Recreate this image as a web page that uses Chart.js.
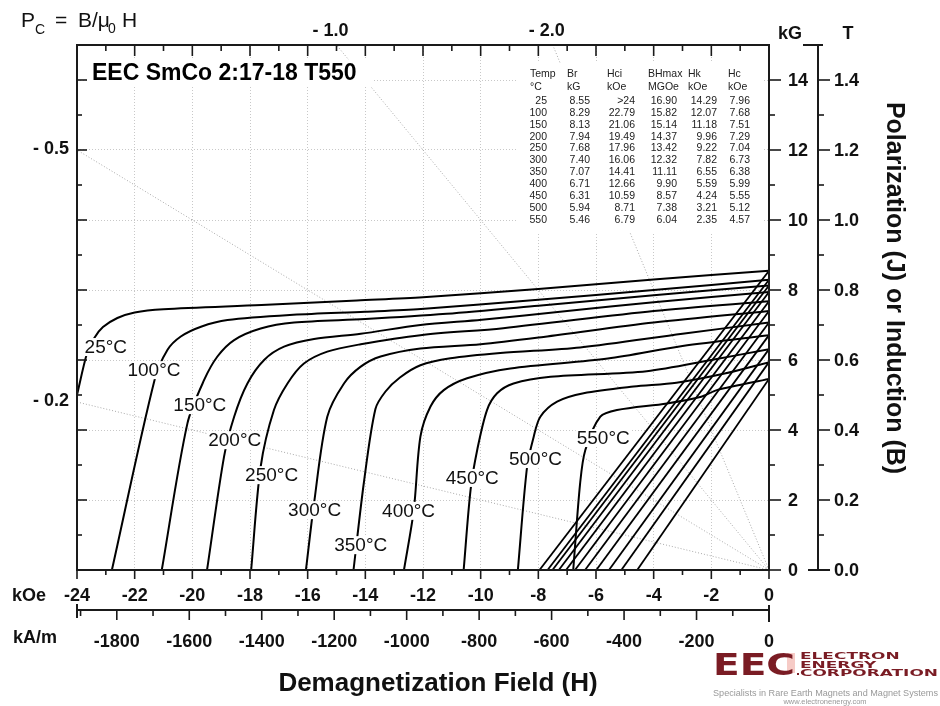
<!DOCTYPE html>
<html>
<head>
<meta charset="utf-8">
<script src="https://cdn.jsdelivr.net/npm/chart.js@4.4.0/dist/chart.umd.min.js"></script>
<style>
  html, body { margin: 0; padding: 0; background: #fff; }
  #wrap { width: 940px; height: 706px; }
</style>
</head>
<body>
<div id="wrap"><canvas id="chartCanvas" width="940" height="706"></canvas></div>
<script>
// ---- values ----
const temps  = [25, 100, 150, 200, 250, 300, 350, 400, 450, 500, 550];
const brKG   = [8.55, 8.29, 8.13, 7.94, 7.68, 7.40, 7.07, 6.71, 6.31, 5.94, 5.46];
const hciKOe = [null, 22.79, 21.06, 19.49, 17.96, 16.06, 14.41, 12.66, 10.59, 8.71, 6.79];
const bhMax  = [16.90, 15.82, 15.14, 14.37, 13.42, 12.32, 11.11, 9.90, 8.57, 7.38, 6.04];
const hkKOe  = [14.29, 12.07, 11.18, 9.96, 9.22, 7.82, 6.55, 5.59, 4.24, 3.21, 2.35];
const hcKOe  = [7.96, 7.68, 7.51, 7.29, 7.04, 6.73, 6.38, 5.99, 5.55, 5.12, 4.57];

// intrinsic (J-H) curves, [H kOe, J kG]
const j25  = [[0,8.55],[-4,8.3],[-8,8.03],[-12,7.79],[-14.29,7.70],[-17.6,7.57],[-21,7.45],[-22,7.36],[-22.6,7.2],[-23.1,6.94],[-23.4,6.63],[-23.65,6.2],[-24,5.0]];
const j100 = [[0,8.29],[-4,8.0],[-8,7.72],[-12.07,7.46],[-14,7.38],[-16.5,7.29],[-18.78,7.14],[-19.7,6.95],[-20.4,6.67],[-20.86,6.29],[-21.31,5.43],[-22.79,0]];
const j150 = [[0,8.13],[-4,7.85],[-8,7.55],[-11.18,7.32],[-14,7.17],[-16.47,7.07],[-17.63,6.9],[-18.55,6.57],[-19.13,6.1],[-19.59,5.43],[-20.17,4.19],[-21.06,0]];
const j200 = [[0,7.94],[-4,7.65],[-7,7.4],[-9.96,7.15],[-12.09,7.0],[-14.16,6.75],[-15.78,6.6],[-16.82,6.38],[-17.51,6.0],[-18.09,5.33],[-18.55,4.38],[-18.9,3.24],[-19.49,0]];
const j250 = [[0,7.68],[-4,7.4],[-9.22,6.91],[-12.09,6.71],[-14.16,6.45],[-15.32,6.24],[-16.13,5.9],[-16.7,5.33],[-17.17,4.57],[-17.63,2.95],[-17.96,0]];
const j300 = [[0,7.40],[-4,7.07],[-7.82,6.66],[-10,6.45],[-12.09,6.33],[-13.47,6.1],[-14.16,5.81],[-14.74,5.33],[-15.32,4.38],[-15.78,1.9],[-16.06,0]];
const j350 = [[0,7.07],[-3,6.75],[-6.55,6.36],[-9.32,6.2],[-11.05,6.05],[-12.09,5.85],[-12.8,5.5],[-13.3,5.1],[-13.65,4.6],[-14.05,2.5],[-14.41,0]];
const j400 = [[0,6.71],[-3,6.4],[-5.59,6.04],[-8.97,5.76],[-10.47,5.48],[-11.28,5.14],[-11.74,4.67],[-12.09,3.81],[-12.32,1.71],[-12.66,0]];
const j450 = [[0,6.31],[-2,6.0],[-4.24,5.68],[-7.58,5.52],[-8.86,5.33],[-9.43,5.05],[-9.78,4.57],[-10.12,3.43],[-10.35,2.29],[-10.59,0]];
const j500 = [[0,5.94],[-1.5,5.62],[-3.21,5.35],[-4.7,5.24],[-6.43,5.05],[-7.35,4.81],[-7.93,4.38],[-8.16,3.81],[-8.39,2.95],[-8.71,0]];
const j550 = [[0,5.46],[-1.81,5.14],[-2.35,4.95],[-3.54,4.76],[-5.27,4.57],[-5.85,4.38],[-6.37,3.43],[-6.55,2.48],[-6.79,0]];
const jCurves = [j25, j100, j150, j200, j250, j300, j350, j400, j450, j500, j550];

// permeance coefficient lines B = -Pc * H
const pcLines = [0.2, 0.5, 1.0, 2.0];
const pcLeft  = [0.5, 0.2];
const pcTop   = [1.0, 2.0];

// axis ticks
const kOeTicks  = [-24, -22, -20, -18, -16, -14, -12, -10, -8, -6, -4, -2, 0];
const kAmTicks  = [-1800, -1600, -1400, -1200, -1000, -800, -600, -400, -200, 0];
const kGTicks   = [0, 2, 4, 6, 8, 10, 12, 14];
const teslaTicks = ['0.0', '0.2', '0.4', '0.6', '0.8', '1.0', '1.2', '1.4'];

// where the temperature tags sit (H, B)
const tagAt = [[-23.0,6.37],[-21.33,5.71],[-19.74,4.71],[-18.53,3.71],[-17.25,2.71],[-15.76,1.71],[-14.16,0.71],[-12.5,1.69],[-10.29,2.63],[-8.1,3.17],[-5.75,3.77]];

const SANS = '"Liberation Sans", Arial, sans-serif';
const KA_PER_KOE = 79.577;

function seg(ctx, x1, y1, x2, y2) {
  ctx.beginPath(); ctx.moveTo(x1, y1); ctx.lineTo(x2, y2); ctx.stroke();
}

const datasets = [];
pcLines.forEach(pc => {
  datasets.push({
    data: [{x: 0, y: 0}, {x: -24, y: 24 * pc}],
    borderColor: '#a8a8a8', borderWidth: 1, borderDash: [1, 2], order: 10
  });
});
jCurves.forEach(c => {
  datasets.push({
    data: c.map(p => ({x: p[0], y: p[1]})),
    borderColor: '#000', borderWidth: 2, tension: 0.3, order: 1
  });
});
brKG.forEach((br, i) => {
  datasets.push({
    data: [{x: 0, y: br}, {x: -hcKOe[i], y: 0}],
    borderColor: '#000', borderWidth: 1.8, order: 1
  });
});

const decor = {
  id: 'decor',
  afterDatasetsDraw(chart) {
    const {ctx, scales: {x, y}} = chart;
    ctx.save();
    // temperature tags
    ctx.font = '19px ' + SANS;
    ctx.textAlign = 'center';
    ctx.textBaseline = 'middle';
    temps.forEach((t, i) => {
      const px = x.getPixelForValue(tagAt[i][0]);
      const py = y.getPixelForValue(tagAt[i][1]);
      const txt = t + '°C';
      const w = ctx.measureText(txt).width;
      ctx.fillStyle = '#fff';
      ctx.fillRect(px - w / 2 - 1, py - 9, w + 2, 18);
      ctx.fillStyle = '#111';
      ctx.fillText(txt, px, py + 1);
    });

    // title box
    ctx.fillStyle = '#fff';
    ctx.fillRect(88, 60, 285, 27);
    ctx.fillStyle = '#000';
    ctx.font = 'bold 23px ' + SANS;
    ctx.textAlign = 'left';
    ctx.fillText('EEC SmCo 2:17-18 T550', 92, 74);

    // property table
    ctx.fillStyle = '#fff';
    ctx.fillRect(517, 63, 245, 170);
    ctx.fillStyle = '#222';
    ctx.font = '10.5px ' + SANS;
    const heads = ['Temp', 'Br', 'Hci', 'BHmax', 'Hk', 'Hc'];
    const units = ['°C', 'kG', 'kOe', 'MGOe', 'kOe', 'kOe'];
    const colL = [530, 567, 607, 648, 688, 728];
    const colR = [547, 590, 635, 677, 717, 750];
    ctx.textAlign = 'left';
    heads.forEach((h, k) => ctx.fillText(h, colL[k], 74));
    units.forEach((u, k) => ctx.fillText(u, colL[k], 87));
    ctx.textAlign = 'right';
    temps.forEach((t, i) => {
      const row = [String(t), brKG[i].toFixed(2), hciKOe[i] === null ? '>24' : hciKOe[i].toFixed(2),
                   bhMax[i].toFixed(2), hkKOe[i].toFixed(2), hcKOe[i].toFixed(2)];
      const ry = 101 + i * 11.9;
      row.forEach((v, k) => ctx.fillText(v, colR[k], ry));
    });
    ctx.restore();
  },
  afterDraw(chart) {
    const {ctx, chartArea: a, scales: {x, y}} = chart;
    ctx.save();
    ctx.strokeStyle = '#1a1a1a';
    ctx.fillStyle = '#111';

    // frame
    ctx.lineWidth = 2;
    ctx.strokeRect(a.left, a.top, a.right - a.left, a.bottom - a.top);

    ctx.lineWidth = 1.6;
    // left (inward) and right kG (outward) ticks
    for (let b = 0; b <= 14; b++) {
      const py = y.getPixelForValue(b);
      const major = b % 2 === 0;
      if (b > 0) seg(ctx, a.left, py, a.left + (major ? 10 : 5), py);
      seg(ctx, a.right, py, a.right + (major ? 12 : 6), py);
    }
    // top (inward) and bottom (outward) ticks
    for (let h = -24; h <= 0; h++) {
      const px = x.getPixelForValue(h);
      const major = h % 2 === 0;
      if (h > -24 && h < 0) seg(ctx, px, a.top, px, a.top + (major ? 11 : 6));
      seg(ctx, px, a.bottom, px, a.bottom + (major ? 9 : 5));
    }

    // kA/m axis
    const yA = 610;
    ctx.lineWidth = 2;
    seg(ctx, a.left, yA, a.right, yA);
    seg(ctx, a.left, yA - 6, a.left, yA + 8);
    seg(ctx, a.right, yA - 5, a.right, yA + 12);
    ctx.lineWidth = 1.6;
    for (let k = -1900; k <= 0; k += 100) {
      const px = x.getPixelForValue(k / KA_PER_KOE);
      seg(ctx, px, yA, px, yA + (k % 200 === 0 ? 10 : 6));
    }

    // tesla axis
    const xT = 818;
    ctx.lineWidth = 2;
    seg(ctx, xT, a.top, xT, a.bottom);
    seg(ctx, xT - 15, a.top, xT + 5, a.top);
    seg(ctx, xT - 10, a.bottom, xT + 12, a.bottom);
    ctx.lineWidth = 1.6;
    for (let b = 1; b <= 14; b++) {
      const py = y.getPixelForValue(b);
      seg(ctx, xT, py, xT + (b % 2 === 0 ? 12 : 6), py);
    }

    // tick labels
    ctx.font = 'bold 18px ' + SANS;
    ctx.textBaseline = 'middle';
    ctx.textAlign = 'center';
    kOeTicks.forEach(h => ctx.fillText(String(h), x.getPixelForValue(h), 596));
    kAmTicks.forEach(k => ctx.fillText(String(k), x.getPixelForValue(k / KA_PER_KOE), 642));
    ctx.fillText('kOe', 29, 596);
    ctx.fillText('kA/m', 35, 638);
    ctx.fillText('kG', 790, 34);
    ctx.fillText('T', 848, 34);
    ctx.textAlign = 'left';
    kGTicks.forEach(b => ctx.fillText(String(b), 788, y.getPixelForValue(b) + 1));
    kGTicks.forEach((b, i) => ctx.fillText(teslaTicks[i], 834, y.getPixelForValue(b) + 1));

    // permeance labels
    ctx.textAlign = 'right';
    pcLeft.forEach(pc => ctx.fillText('- ' + pc.toFixed(1), 69, y.getPixelForValue(24 * pc) - 1));
    pcTop.forEach(pc => ctx.fillText('- ' + pc.toFixed(1), x.getPixelForValue(-15 / pc) + 12, 31));

    // axis titles
    ctx.textAlign = 'center';
    ctx.font = 'bold 26px ' + SANS;
    ctx.fillText('Demagnetization Field (H)', 438, 684);
    ctx.save();
    ctx.translate(894, 288);
    ctx.rotate(Math.PI / 2);
    ctx.font = 'bold 25px ' + SANS;
    ctx.fillText('Polarization (J) or Induction (B)', 0, 0);
    ctx.restore();

    // Pc = B/u0H, pieces placed one by one
    ctx.textAlign = 'left';
    ctx.textBaseline = 'alphabetic';
    const big = '21px ' + SANS, sub = '14px ' + SANS;
    [['P', big, 21, 27], ['C', sub, 35, 34], ['=', big, 55, 27], ['B/μ', big, 78, 27],
     ['0', sub, 108, 33], ['H', big, 122, 27]].forEach(p => {
      ctx.font = p[1];
      ctx.fillText(p[0], p[2], p[3]);
    });

    // logo
    const red = '#7a1c24';
    ctx.fillStyle = '#f6cbc6';
    ctx.fillRect(787, 653, 8, 20);
    ctx.fillStyle = red;
    ctx.save();
    ctx.font = 'bold 31px "DejaVu Sans", sans-serif';
    const wE = ctx.measureText('EEC').width;
    ctx.translate(713, 675);
    ctx.scale(82 / wE, 1);
    ctx.fillText('EEC', 0, 0);
    ctx.restore();
    ctx.save();
    ctx.font = 'bold 9.5px "DejaVu Sans", sans-serif';
    const sx = 138 / ctx.measureText('CORPORATION').width;
    [['ELECTRON', 659], ['ENERGY', 667.5], ['CORPORATION', 676]].forEach(r => {
      ctx.save(); ctx.translate(800, r[1]); ctx.scale(sx, 1); ctx.fillText(r[0], 0, 0); ctx.restore();
    });
    ctx.fillRect(797, 673, 2, 2);
    ctx.restore();
    ctx.fillStyle = '#999';
    ctx.font = '9px ' + SANS;
    const slogan = 'Specialists in Rare Earth Magnets and Magnet Systems';
    ctx.save();
    ctx.translate(713, 696);
    ctx.scale(225 / ctx.measureText(slogan).width, 1);
    ctx.fillText(slogan, 0, 0);
    ctx.restore();
    ctx.font = '7.5px ' + SANS;
    ctx.textAlign = 'center';
    ctx.fillText('www.electronenergy.com', 825, 704);
    ctx.restore();
  }
};

const ctx = document.getElementById('chartCanvas').getContext('2d');
new Chart(ctx, {
  type: 'line',
  data: { datasets },
  options: {
    responsive: false,
    animation: false,
    parsing: true,
    layout: { padding: { left: 77, right: 171, top: 45, bottom: 136 } },
    elements: { point: { radius: 0 } },
    plugins: { legend: { display: false }, tooltip: { enabled: false } },
    scales: {
      x: {
        type: 'linear', min: -24, max: 0,
        ticks: { display: false, stepSize: 2 },
        grid: { color: '#c8c8c8', lineWidth: 1, drawTicks: false },
        border: { display: false, dash: [1, 2] },
        afterFit(s) { s.height = 0; }
      },
      y: {
        type: 'linear', min: 0, max: 15,
        ticks: { display: false, stepSize: 2 },
        grid: { color: '#c8c8c8', lineWidth: 1, drawTicks: false },
        border: { display: false, dash: [1, 2] },
        afterFit(s) { s.width = 0; }
      }
    }
  },
  plugins: [decor]
});
</script>
</body>
</html>
